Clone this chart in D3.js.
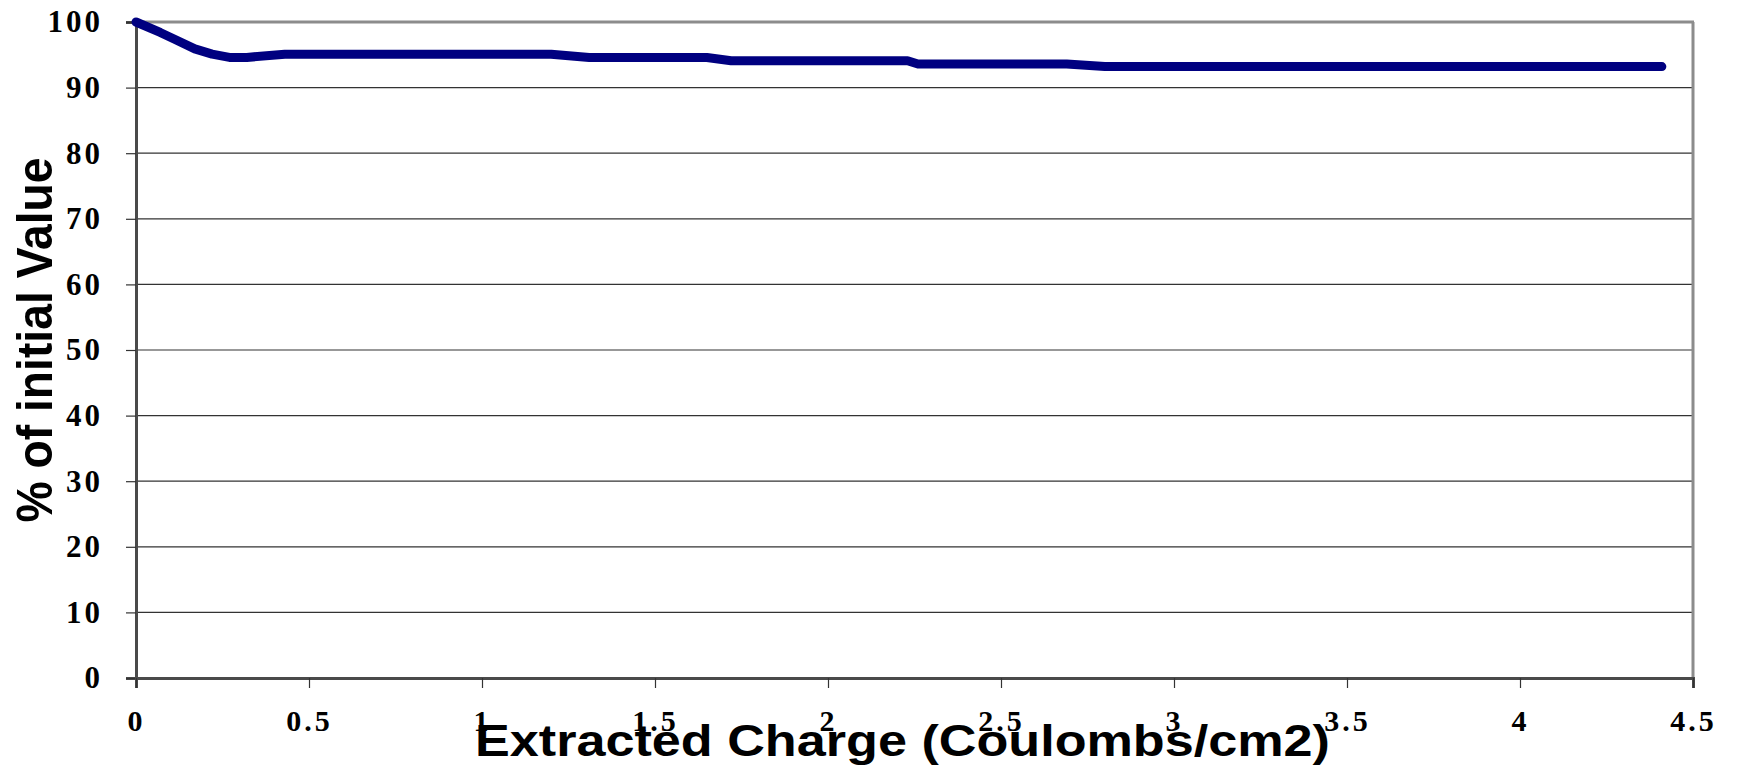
<!DOCTYPE html>
<html>
<head>
<meta charset="utf-8">
<script src="https://cdn.jsdelivr.net/npm/d3@7"></script>
<style>
  html, body { margin: 0; padding: 0; background: #fff; }
  svg { display: block; }
</style>
</head>
<body>
<svg id="chart" width="1737" height="773"></svg>
<script>
// ---- data ----
const chargeValues = [0, 0.07, 0.11, 0.17, 0.22, 0.27, 0.32, 0.43, 1.20, 1.31, 1.65, 1.72, 2.23, 2.26, 2.69, 2.80, 4.41];
const percentValues = [100, 98.4, 97.4, 95.9, 95.1, 94.6, 94.6, 95.1, 95.1, 94.6, 94.6, 94.1, 94.1, 93.6, 93.6, 93.2, 93.2];
const xTickValues = [0, 0.5, 1, 1.5, 2, 2.5, 3, 3.5, 4, 4.5];
const yTickValues = [0, 10, 20, 30, 40, 50, 60, 70, 80, 90, 100];
const xTitle = "Extracted Charge (Coulombs/cm2)";
const yTitle = "% of initial Value";

const points = chargeValues.map((c, i) => ({ x: c, y: percentValues[i] }));

const svg = d3.select("#chart");
const plotLeft = 136, plotRight = 1693, plotTop = 22, plotBottom = 678;

const x = d3.scaleLinear().domain([0, 4.5]).range([plotLeft, plotRight]);
const y = d3.scaleLinear().domain([0, 100]).range([plotBottom, plotTop]);

// gridlines
svg.append("g")
  .selectAll("line")
  .data(yTickValues.filter(v => v > 0 && v < 100))
  .join("line")
  .attr("x1", plotLeft).attr("x2", plotRight)
  .attr("y1", d => y(d)).attr("y2", d => y(d))
  .attr("stroke", "#333").attr("stroke-width", 1.2);

// top and right border (gray)
svg.append("line").attr("x1", plotLeft).attr("x2", plotRight + 1).attr("y1", plotTop).attr("y2", plotTop)
  .attr("stroke", "#8c8c8c").attr("stroke-width", 3);
svg.append("line").attr("x1", plotRight).attr("x2", plotRight).attr("y1", plotTop).attr("y2", plotBottom)
  .attr("stroke", "#8c8c8c").attr("stroke-width", 3);

// y axis
const yAxis = svg.append("g")
  .attr("transform", `translate(${plotLeft},0)`)
  .call(d3.axisLeft(y).tickValues(yTickValues).tickSize(10).tickPadding(23).tickFormat(d3.format("d")));
yAxis.select(".domain").attr("stroke", "#4a4a4a").attr("stroke-width", 3);
yAxis.selectAll(".tick line").attr("stroke", "#333").attr("stroke-width", 1.2);
yAxis.selectAll(".tick text")
  .attr("font-family", "'Liberation Serif', 'Times New Roman', serif")
  .attr("font-weight", "bold").attr("font-size", 31)
  .attr("letter-spacing", "3px")
  .attr("fill", "#000");

// x axis
const xAxis = svg.append("g")
  .attr("transform", `translate(0,${plotBottom})`)
  .call(d3.axisBottom(x).tickValues(xTickValues).tickSize(10).tickPadding(34).tickFormat(d3.format("")));
xAxis.select(".domain").attr("stroke", "#4a4a4a").attr("stroke-width", 3);
xAxis.selectAll(".tick line").attr("stroke", "#333").attr("stroke-width", 1.2);
xAxis.selectAll(".tick text")
  .attr("dy", 0)
  .attr("y", 53)
  .attr("font-family", "'Liberation Serif', 'Times New Roman', serif")
  .attr("font-weight", "bold").attr("font-size", 30)
  .attr("letter-spacing", "3px")
  .attr("fill", "#000");

// data line
const line = d3.line().x(d => x(d.x)).y(d => y(d.y));
svg.append("path")
  .datum(points)
  .attr("d", line)
  .attr("fill", "none")
  .attr("stroke", "#000080")
  .attr("stroke-width", 9)
  .attr("stroke-linecap", "round")
  .attr("stroke-linejoin", "round");

// axis titles
svg.append("text")
  .attr("x", 475).attr("y", 756)
  .attr("textLength", 855).attr("lengthAdjust", "spacingAndGlyphs")
  .attr("font-family", "'Liberation Sans', Arial, sans-serif")
  .attr("font-weight", "bold").attr("font-size", 44)
  .attr("fill", "#000")
  .text(xTitle);

svg.append("text")
  .attr("transform", "translate(52,340) rotate(-90)")
  .attr("text-anchor", "middle")
  .attr("textLength", 365).attr("lengthAdjust", "spacingAndGlyphs")
  .attr("font-family", "'Liberation Sans', Arial, sans-serif")
  .attr("font-weight", "bold").attr("font-size", 50)
  .attr("fill", "#000")
  .text(yTitle);
</script>
</body>
</html>
